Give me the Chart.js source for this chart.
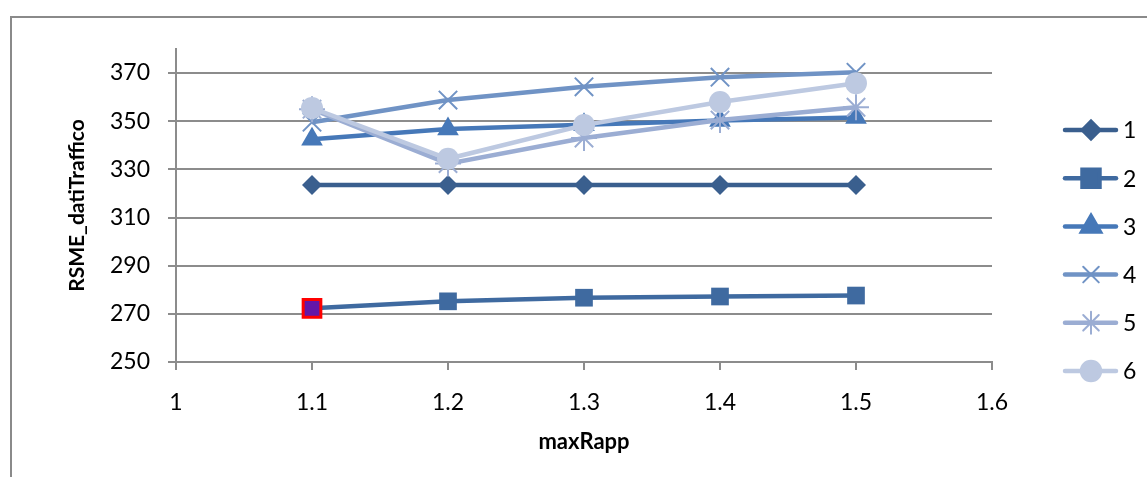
<!DOCTYPE html>
<html>
<head>
<meta charset="utf-8">
<script src="https://cdn.jsdelivr.net/npm/chart.js@4.4.1/dist/chart.umd.min.js"></script>
<style>
  body { margin: 0; background: #fff; overflow: hidden; }
  #frame { position: absolute; left: 10px; top: 16px; width: 1300px; height: 600px; border: 2px solid #8a8a8a; }
  #wrap { position: absolute; left: 0; top: 0; width: 1147px; height: 477px; }
</style>
</head>
<body>
<div id="frame"></div>
<div id="wrap"><canvas id="chart" width="1147" height="477"></canvas></div>
<script>
/* ---------- data ---------- */
const maxRapp = [1.1, 1.2, 1.3, 1.4, 1.5];
const serie1 = [323.5, 323.5, 323.5, 323.5, 323.5];
const serie2 = [272.3, 275.2, 276.7, 277.2, 277.6];
const serie3 = [342.5, 346.8, 348.5, 350.3, 351.5];
const serie4 = [349.6, 358.8, 364.3, 368.3, 370.3];
const serie5 = [355, 332.4, 343, 350.5, 355.8];
const serie6 = [355.5, 334.4, 348.4, 358, 365.8];
const seriesNames = ["1", "2", "3", "4", "5", "6"];
const yTicks = [250, 270, 290, 310, 330, 350, 370];

const colors = ["#3a5f8e", "#3f6aa0", "#4678b8", "#7093c5", "#9badd3", "#bdc9e1"];
const styles = ["rectRot", "rect", "triangle", "crossRot", "star", "circle"];
const radii = [10, 12.5, 12.5, 13, 13, 11];
const legendRadii = [8, 12, 10, 11, 11, 9];

const grey = "#8c8c8c";
const font = "Lato";

function pts(vals) {
  return vals.map((v, i) => ({ x: maxRapp[i], y: v }));
}

const allSeries = [serie1, serie2, serie3, serie4, serie5, serie6];

const datasets = allSeries.map((vals, i) => {
  const stroked = styles[i] === "crossRot" || styles[i] === "star";
  return {
    label: seriesNames[i],
    data: pts(vals),
    borderColor: colors[i],
    backgroundColor: colors[i],
    borderWidth: 4.5,
    pointStyle: styles[i],
    pointRadius: radii[i],
    pointBorderWidth: stroked ? 2 : 0,
    pointBorderColor: colors[i],
    pointBackgroundColor: colors[i],
    order: 6 - i,
  };
});

// the highlighted first point of serie 2
datasets[1].pointBackgroundColor = ["#6416a8", colors[1], colors[1], colors[1], colors[1]];
datasets[1].pointBorderColor = ["#ff0000", colors[1], colors[1], colors[1], colors[1]];
datasets[1].pointBorderWidth = [3, 0, 0, 0, 0];

/* ---------- legend drawn on the right ---------- */
const sideLegend = {
  id: "sideLegend",
  afterDraw(chart) {
    const ctx = chart.ctx;
    ctx.save();
    datasets.forEach((ds, i) => {
      const y = 130 + i * 48.2;
      ctx.strokeStyle = ds.borderColor;
      ctx.lineWidth = 4.5;
      ctx.lineCap = "round";
      ctx.beginPath();
      ctx.moveTo(1065, y);
      ctx.lineTo(1116, y);
      ctx.stroke();
      ctx.fillStyle = ds.borderColor;
      ctx.strokeStyle = ds.borderColor;
      ctx.lineWidth = (styles[i] === "crossRot" || styles[i] === "star") ? 2 : 0;
      Chart.helpers.drawPoint(ctx, { pointStyle: styles[i], radius: legendRadii[i], rotation: 0, borderWidth: ctx.lineWidth }, 1091, y);
      ctx.fillStyle = "#000";
      ctx.font = "23px " + font;
      ctx.textBaseline = "middle";
      ctx.fillText(ds.label, 1123, y + 1);
    });
    ctx.restore();
  }
};

new Chart(document.getElementById("chart"), {
  type: "line",
  data: { datasets },
  plugins: [sideLegend],
  options: {
    responsive: false,
    animation: false,
    events: [],
    layout: { padding: { left: 0, top: 49, right: 155, bottom: 0 } },
    plugins: { legend: { display: false }, tooltip: { enabled: false } },
    scales: {
      x: {
        type: "linear",
        min: 1,
        max: 1.6,
        afterFit: (s) => { s.height = 115; },
        ticks: {
          stepSize: 0.1,
          padding: 19,
          color: "#000",
          font: { family: font, size: 23 },
          callback: (v) => String(+v.toFixed(1)),
        },
        grid: { drawOnChartArea: false, color: grey, lineWidth: 2, tickLength: 8 },
        border: { color: grey, width: 2 },
        title: {
          display: true,
          text: "maxRapp",
          color: "#000",
          font: { family: font, size: 22, weight: "bold" },
          padding: { top: 0, bottom: 22 },
        },
      },
      y: {
        min: 250,
        max: 380,
        afterFit: (s) => { s.width = 176; },
        afterBuildTicks: (s) => { s.ticks = yTicks.map((v) => ({ value: v })); },
        ticks: {
          padding: 18,
          color: "#000",
          font: { family: font, size: 23 },
        },
        grid: { color: grey, lineWidth: 2, tickLength: 8 },
        border: { color: grey, width: 2 },
        title: {
          display: true,
          text: "RSME_datiTraffico",
          color: "#000",
          font: { family: font, size: 21, weight: "bold" },
          padding: { top: 65, bottom: 0 },
        },
      },
    },
  },
});
</script>
</body>
</html>
